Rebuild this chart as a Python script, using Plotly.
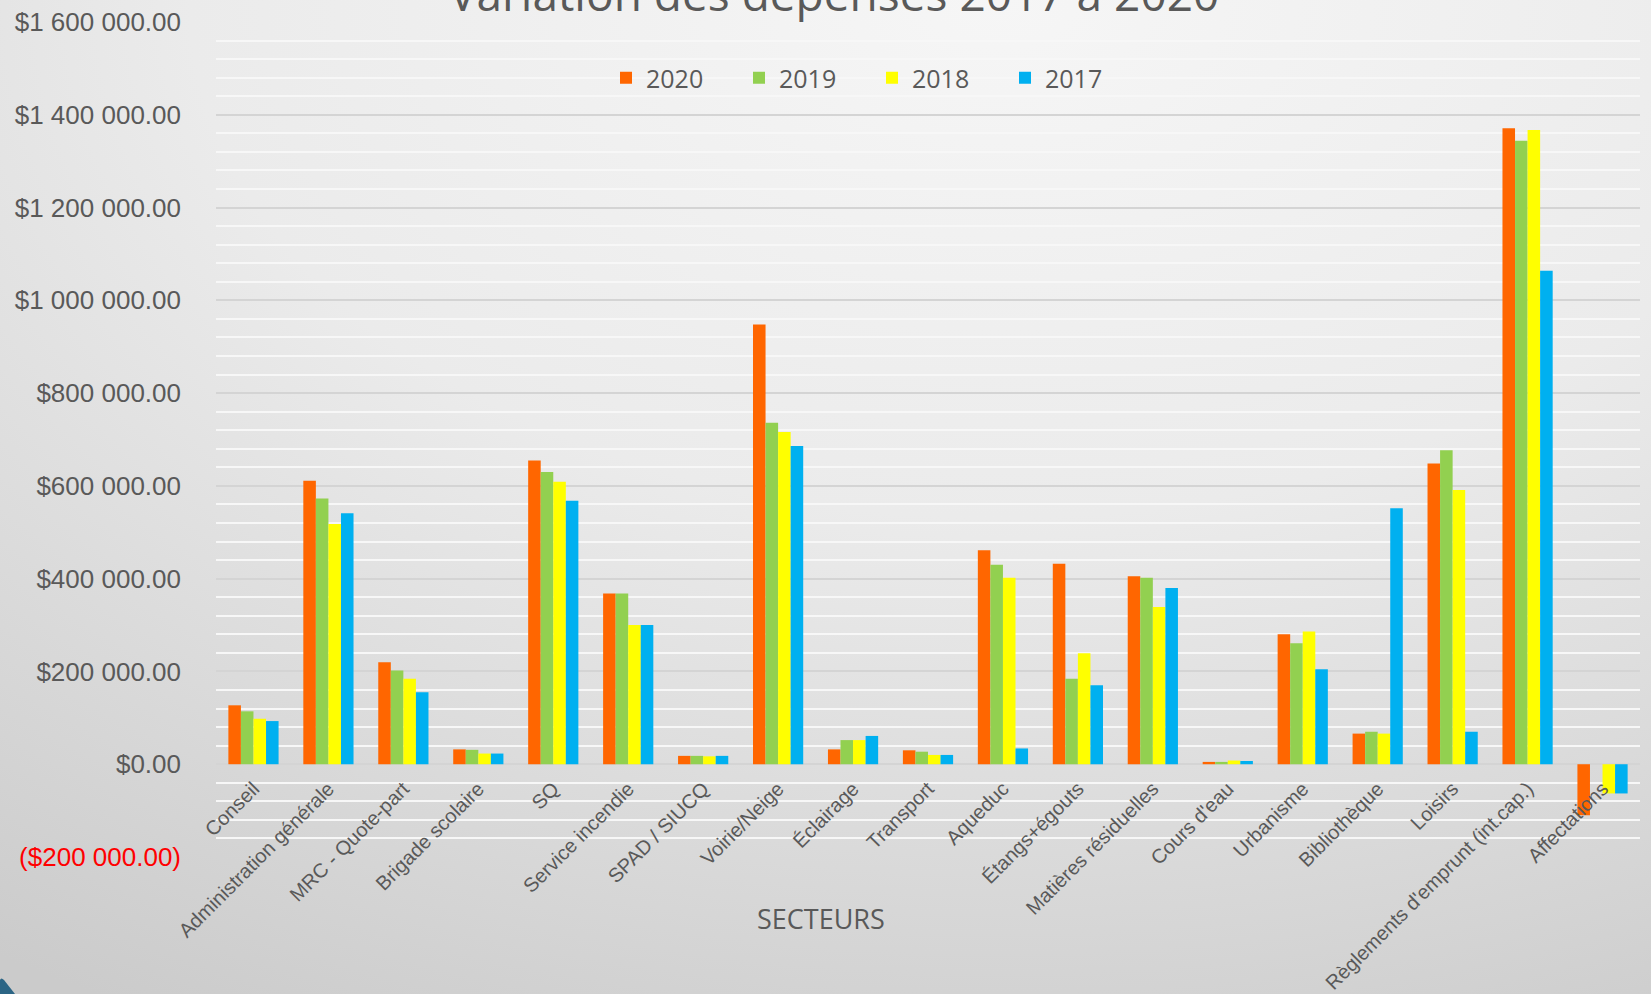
import base64
import plotly.graph_objects as go

categories = ["Conseil", "Administration générale", "MRC - Quote-part", "Brigade scolaire",
              "SQ", "Service incendie", "SPAD / SIUCQ", "Voirie/Neige", "Éclairage",
              "Transport", "Aqueduc", "Étangs+égouts", "Matières résiduelles", "Cours d'eau",
              "Urbanisme", "Bibliothèque", "Loisirs", "Règlements d'emprunt (int.cap.)",
              "Affectations"]

v2020 = [127000, 611000, 220000, 32000, 655000, 368000, 18000, 948000, 32000, 30000,
         461000, 432000, 405000, 5000, 280000, 66000, 648000, 1371000, -110000]
v2019 = [114000, 573000, 202000, 31000, 630000, 368000, 18000, 736000, 52000, 27000,
         430000, 184000, 402000, 5000, 261000, 70000, 677000, 1344000, 0]
v2018 = [98000, 518000, 184000, 23000, 609000, 300000, 17000, 716000, 52000, 20000,
         402000, 239000, 339000, 8000, 286000, 66000, 591000, 1367000, -63000]
v2017 = [93000, 541000, 155000, 23000, 568000, 300000, 18000, 686000, 61000, 20000,
         34000, 170000, 380000, 7000, 205000, 552000, 70000, 1064000, -63000]

series_names = ["2020", "2019", "2018", "2017"]
series_values = [v2020, v2019, v2018, v2017]
series_colors = ["#FF6600", "#92D050", "#FFFF00", "#00B0F0"]

tick_vals = [-200000, 0, 200000, 400000, 600000, 800000, 1000000, 1200000, 1400000, 1600000]
tick_text = ['<span style="color:#ff0000">($200 000.00)</span>', "$0.00", "$200 000.00",
             "$400 000.00", "$600 000.00", "$800 000.00", "$1 000 000.00",
             "$1 200 000.00", "$1 400 000.00", "$1 600 000.00"]

W, H = 1651, 994
ML, MR, MT, MB = 216, 11, 22, 137
PW, PH = W - ML - MR, H - MT - MB

svg = f"""<svg xmlns='http://www.w3.org/2000/svg' width='{W}' height='{H}' viewBox='0 0 {W} {H}' preserveAspectRatio='none'>
<defs><radialGradient id='g' gradientUnits='userSpaceOnUse' cx='1000' cy='0' r='1150'
 gradientTransform='translate(1000,0) scale(1.565,1) translate(-1000,0)'>
<stop offset='0' stop-color='#f6f6f6'/><stop offset='0.45' stop-color='#ebebeb'/><stop offset='1' stop-color='#cbcbcb'/></radialGradient></defs>
<rect width='{W}' height='{H}' fill='url(#g)'/>
<path d='M0,980 Q1,977 4,980 L15,994 L0,994 Z' fill='#2c6585'/>
</svg>"""
src = "data:image/svg+xml;base64," + base64.b64encode(svg.encode("utf-8")).decode("ascii")

fig = go.Figure()
for name, vals, col in zip(series_names, series_values, series_colors):
    fig.add_trace(go.Bar(x=categories, y=vals, name=name, marker=dict(color=col, line=dict(width=0))))

fig.update_layout(
    width=W, height=H,
    margin=dict(l=ML, r=MR, t=MT, b=MB, pad=0, autoexpand=False),
    paper_bgcolor="#e0e0e0",
    plot_bgcolor="rgba(0,0,0,0)",
    barmode="group", bargap=0.33, bargroupgap=0,
    showlegend=True,
    legend=dict(orientation="h", x=(872 - ML) / PW, xanchor="center",
                y=(H - MB - 78) / PH, yanchor="middle",
                font=dict(family="Open Sans", size=25, color="#595959"),
                bgcolor="rgba(0,0,0,0)", entrywidth=88, entrywidthmode="pixels"),
    images=[dict(source=src, xref="paper", yref="paper",
                 x=-ML / PW, y=1 + MT / PH, sizex=W / PW, sizey=H / PH,
                 xanchor="left", yanchor="top", sizing="stretch", layer="below")],
    annotations=[
        dict(text="Variation des dépenses 2017 à 2020", xref="paper", yref="paper",
             x=(834 - ML) / PW, y=(H - MB + 7) / PH, xanchor="center", yanchor="middle",
             showarrow=False, font=dict(family="Open Sans", size=46, color="#595959")),
        dict(text="SECTEURS", xref="paper", yref="paper",
             x=(821 - ML) / PW, y=-(918 - (H - MB)) / PH, xanchor="center", yanchor="middle",
             showarrow=False, font=dict(family="Open Sans", size=27, color="#595959")),
    ],
)

fig.update_yaxes(
    range=[-200000, 1600000], tickvals=tick_vals, ticktext=tick_text,
    tickfont=dict(family="Liberation Sans Narrow, Arial Narrow, Liberation Sans", size=26, color="#595959"),
    showgrid=True, gridcolor="#d4d4d4", gridwidth=1.5,
    zeroline=True, zerolinecolor="#d4d4d4", zerolinewidth=1.5,
    minor=dict(dtick=40000, showgrid=True, gridcolor="#f7f7f7", gridwidth=1.5),
    ticklabelstandoff=34, showline=False, ticks="", automargin=False,
)
fig.update_xaxes(
    anchor="free", position=(0 - (-200000)) / 1800000,
    tickangle=-45, tickfont=dict(family="Liberation Sans, Arial", size=20, color="#595959"),
    showgrid=False, showline=False, ticks="", layer="above traces", automargin=False,
    ticklabelstandoff=8,
)

fig.write_html("out.html", config={"displayModeBar": False},
               post_script="document.body.style.margin='0';document.body.style.overflow='hidden';")
